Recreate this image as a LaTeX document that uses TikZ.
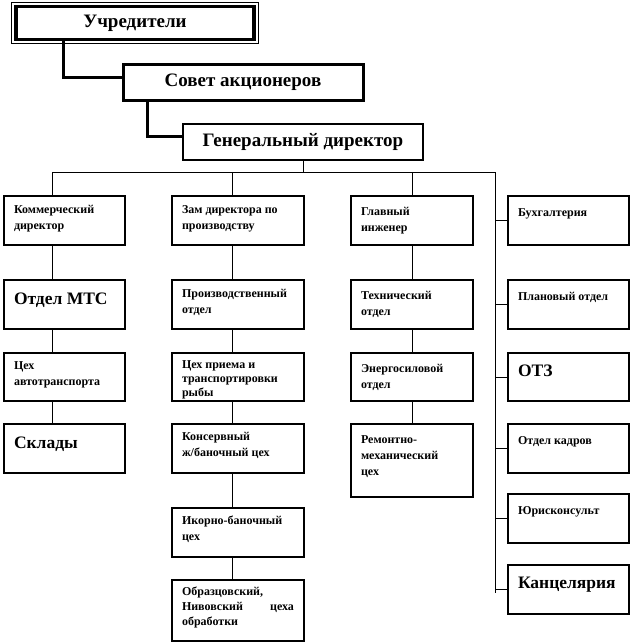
\documentclass[tikz,border=0pt]{standalone}
\usepackage{fontspec}
\setmainfont{Liberation Serif}
\usetikzlibrary{positioning,calc}

\newcommand\celltext[4]{\parbox[c][#2pt][t]{#1pt}{\raggedright\rule{0pt}{#3}#4}}

\begin{document}
\begin{tikzpicture}[x=1pt,y=-1pt,
    chief/.style={draw,line width=2pt,font=\fontsize{19}{22}\selectfont\bfseries},
    unit/.style={draw,line width=2pt,anchor=north west,inner xsep=10pt,inner ysep=0pt,
                 font=\fontsize{12}{16}\selectfont\bfseries},
    big/.style={font=\fontsize{17.5}{21}\selectfont\bfseries},
    link/.style={line width=0.8pt},
    boldlink/.style={line width=3pt}]
\useasboundingbox (0,0) rectangle (630,643);
% top of the chart
\node[chief,line width=3.5pt,minimum width=238pt,minimum height=33pt] (uch) at (135,23) {Учредители};
\draw[line width=0.8pt] ([xshift=-2.5pt,yshift=2.5pt]uch.north west) rectangle ([xshift=2.5pt,yshift=-2.5pt]uch.south east);
\node[chief,line width=3pt,minimum width=240pt,minimum height=36pt] (sov) at (243,82) {Совет акционеров};
\node[chief,minimum width=240pt,minimum height=36pt] (gen) at (303,142) {Генеральный директор};
\draw[boldlink] ([xshift=-72pt]uch.south) |- ([yshift=5pt]sov.west);
\draw[boldlink] ([xshift=-96pt]sov.south) |- ([yshift=6pt]gen.west);

\coordinate (b1) at (52,172);
\coordinate (b2) at (232,172);
\coordinate (b3) at (412,172);
\coordinate (b4) at (495,172);
\coordinate (b4end) at (495,593);

% first column
\node[unit] (kom) at (3,195) {\celltext{101}{49}{17pt}{Коммерческий\\директор}};
\node[unit,big] (mts) at (3,279) {\celltext{101}{49}{24pt}{Отдел МТС}};
\node[unit] (avt) at (3,352) {\celltext{101}{48}{16pt}{Цех\\автотранспорта}};
\node[unit,big] (skl) at (3,423) {\celltext{101}{49}{24pt}{Склады}};

% second column
\node[unit] (zam) at (171,195) {\celltext{112}{49}{17pt}{Зам директора по\\производству}};
\node[unit] (proiz) at (171,279) {\celltext{112}{49}{17pt}{Производственный\\отдел}};
\node[unit,font=\fontsize{12}{14}\selectfont\bfseries] (priem) at (171,352) {\celltext{112}{48}{15pt}{Цех приема и\\транспортировки\\рыбы}};
\node[unit] (kons) at (171,423) {\celltext{112}{49}{16pt}{Консервный\\ж/баночный цех}};
\node[unit] (ikor) at (171,507) {\celltext{112}{49}{16pt}{Икорно-баночный\\цех}};
\node[unit,font=\fontsize{12}{15}\selectfont\bfseries] (obr) at (171,579) {\celltext{112}{61}{15pt}{Образцовский,\\Нивовский\hfill цеха\\обработки}};

% third column
\node[unit] (glav) at (350,195) {\celltext{102}{49}{19pt}{Главный\\инженер}};
\node[unit] (tech) at (350,279) {\celltext{102}{49}{19pt}{Технический\\отдел}};
\node[unit] (energ) at (350,352) {\celltext{102}{48}{19pt}{Энергосиловой\\отдел}};
\node[unit] (rem) at (350,423) {\celltext{102}{73}{19pt}{Ремонтно-\\механический\\цех}};

% fourth column
\node[unit] (buh) at (507,195) {\celltext{101}{49}{20pt}{Бухгалтерия}};
\node[unit] (plan) at (507,279) {\celltext{101}{49}{20pt}{Плановый отдел}};
\node[unit,big] (otz) at (507,352) {\celltext{101}{48}{23pt}{ОТЗ}};
\node[unit] (kadr) at (507,423) {\celltext{101}{49}{20pt}{Отдел кадров}};
\node[unit] (jur) at (507,493) {\celltext{101}{49}{20pt}{Юрисконсульт}};
\node[unit,big] (kanc) at (507,564) {\celltext{101}{49}{23pt}{Канцелярия}};

% connectors
\draw[link] (gen.south) -- (gen.south |- b1);
\draw[link] (b1) -- (b4);
\draw[link] (b1) -- (kom.north -| b1);
\draw[link] (b2) -- (zam.north -| b2);
\draw[link] (b3) -- (glav.north -| b3);
\draw[link] (b4) -- (b4end);
\foreach \a/\b in {kom/mts,mts/avt,avt/skl}
    \draw[link] (\a.south -| b1) -- (\b.north -| b1);
\foreach \a/\b in {zam/proiz,proiz/priem,priem/kons,kons/ikor,ikor/obr}
    \draw[link] (\a.south -| b2) -- (\b.north -| b2);
\foreach \a/\b in {glav/tech,tech/energ,energ/rem}
    \draw[link] (\a.south -| b3) -- (\b.north -| b3);
\foreach \n in {buh,plan,otz,kadr,jur,kanc}
    \draw[link] (\n.west -| b4) -- (\n.west);
\end{tikzpicture}
\end{document}
